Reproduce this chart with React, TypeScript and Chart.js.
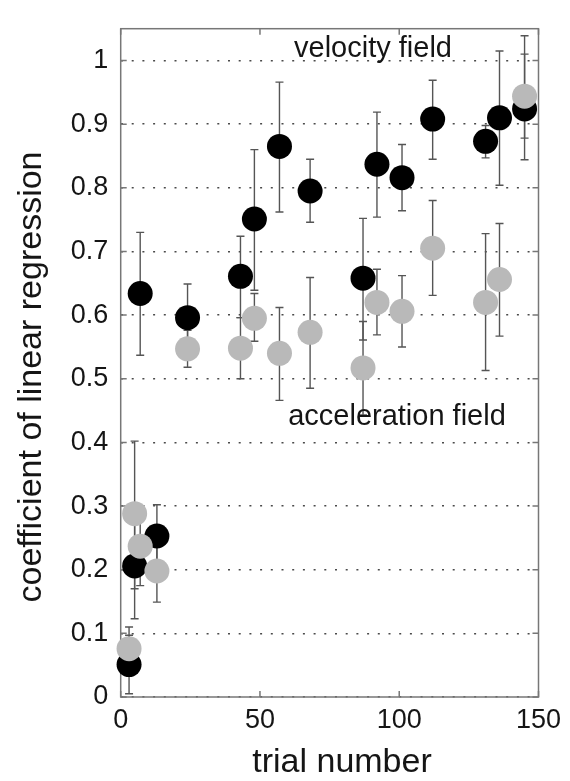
import React, { useEffect, useRef } from "react";
import { Chart, registerables } from "chart.js";

Chart.register(...registerables);

// ---- data ----
const trials = [3, 5, 7, 13, 24, 43, 48, 57, 68, 87, 92, 101, 112, 131, 136, 145];

const velocityMean = [0.051, 0.206, 0.634, 0.253, 0.596, 0.661, 0.751, 0.865, 0.795, 0.658, 0.837, 0.816, 0.908, 0.873, 0.91, 0.924];
const velocityLow = [0.005, 0.123, 0.537, 0.204, 0.543, 0.596, 0.639, 0.762, 0.746, 0.561, 0.754, 0.764, 0.845, 0.847, 0.804, 0.844];
const velocityHigh = [0.097, 0.29, 0.73, 0.302, 0.649, 0.724, 0.86, 0.966, 0.845, 0.752, 0.919, 0.868, 0.969, 0.898, 1.015, 1.039];

const accelerationMean = [0.076, 0.288, 0.237, 0.198, 0.547, 0.548, 0.595, 0.54, 0.573, 0.517, 0.62, 0.606, 0.705, 0.62, 0.656, 0.944];
const accelerationLow = [0.042, 0.17, 0.175, 0.149, 0.518, 0.5, 0.559, 0.466, 0.485, 0.443, 0.569, 0.55, 0.631, 0.513, 0.567, 0.878];
const accelerationHigh = [0.11, 0.402, 0.3, 0.247, 0.576, 0.596, 0.634, 0.612, 0.659, 0.59, 0.672, 0.662, 0.78, 0.728, 0.744, 1.01];

const xTickValues = [0, 50, 100, 150];
const xTickLabels = ["0", "50", "100", "150"];
const yTickValues = [0, 0.1, 0.2, 0.3, 0.4, 0.5, 0.6, 0.7, 0.8, 0.9, 1];
const yTickLabels = ["0", "0.1", "0.2", "0.3", "0.4", "0.5", "0.6", "0.7", "0.8", "0.9", "1"];

const seriesNames = ["velocity field", "acceleration field"];
const xTitle = "trial number";
const yTitle = "coefficient of linear regression";

const FONT = "'Liberation Sans', Arial, Helvetica, sans-serif";

const errorBarPlugin = {
  id: "errorBars",
  beforeDatasetsDraw(chart: any) {
    const ctx = chart.ctx;
    const xs = chart.scales.x;
    const ys = chart.scales.y;
    const sets = [
      [velocityLow, velocityHigh],
      [accelerationLow, accelerationHigh],
    ];
    ctx.save();
    ctx.strokeStyle = "#555";
    ctx.lineWidth = 1.4;
    sets.forEach(([lo, hi]) => {
      trials.forEach((t, i) => {
        const x = xs.getPixelForValue(t);
        const y1 = ys.getPixelForValue(lo[i]);
        const y2 = ys.getPixelForValue(hi[i]);
        ctx.beginPath();
        ctx.moveTo(x, y1);
        ctx.lineTo(x, y2);
        ctx.moveTo(x - 4, y1);
        ctx.lineTo(x + 4, y1);
        ctx.moveTo(x - 4, y2);
        ctx.lineTo(x + 4, y2);
        ctx.stroke();
      });
    });
    // frame + inward tick marks
    const a = chart.chartArea;
    ctx.strokeStyle = "#777";
    ctx.lineWidth = 1.5;
    ctx.strokeRect(a.left, a.top, a.right - a.left, a.bottom - a.top);
    ctx.beginPath();
    yTickValues.forEach((v) => {
      const y = ys.getPixelForValue(v);
      ctx.moveTo(a.left, y);
      ctx.lineTo(a.left + 6, y);
      ctx.moveTo(a.right, y);
      ctx.lineTo(a.right - 6, y);
    });
    xTickValues.forEach((v) => {
      const x = xs.getPixelForValue(v);
      ctx.moveTo(x, a.bottom);
      ctx.lineTo(x, a.bottom - 6);
      ctx.moveTo(x, a.top);
      ctx.lineTo(x, a.top + 6);
    });
    ctx.stroke();
    ctx.restore();
  },
  afterDraw(chart: any) {
    const ctx = chart.ctx;
    ctx.save();
    ctx.fillStyle = "#151515";
    ctx.textAlign = "center";
    ctx.textBaseline = "alphabetic";
    ctx.font = `29px ${FONT}`;
    ctx.fillText(seriesNames[0], 373, 57);
    ctx.fillText(seriesNames[1], 397, 425);
    ctx.font = `34px ${FONT}`;
    ctx.fillText(xTitle, 342, 772);
    ctx.translate(41, 377);
    ctx.rotate(-Math.PI / 2);
    ctx.fillText(yTitle, 0, 0);
    ctx.restore();
  },
};

export default function App() {
  const ref = useRef<HTMLCanvasElement>(null);
  useEffect(() => {
    if (!ref.current) return;
    const chart = new Chart(ref.current, {
      type: "scatter",
      data: {
        datasets: [
          {
            label: seriesNames[0],
            data: trials.map((t, i) => ({ x: t, y: velocityMean[i] })),
            pointRadius: 12.5,
            pointHoverRadius: 12.5,
            pointBackgroundColor: "#000000",
            pointBorderWidth: 0,
            borderWidth: 0,
            clip: false,
            order: 2,
          } as any,
          {
            label: seriesNames[1],
            data: trials.map((t, i) => ({ x: t, y: accelerationMean[i] })),
            pointRadius: 12.5,
            pointHoverRadius: 12.5,
            pointBackgroundColor: "#b9b9b9",
            pointBorderWidth: 0,
            borderWidth: 0,
            clip: false,
            order: 1,
          } as any,
        ],
      },
      options: {
        animation: false,
        responsive: true,
        maintainAspectRatio: false,
        layout: { padding: { top: 9, right: 31.5, left: 0, bottom: 0 } },
        plugins: {
          legend: { display: false },
          tooltip: { enabled: false },
        },
        scales: {
          x: {
            type: "linear",
            min: 0,
            max: 150,
            afterBuildTicks: (s: any) => {
              s.ticks = xTickValues.map((v) => ({ value: v }));
            },
            afterFit: (s: any) => {
              s.height = 84;
            },
            ticks: {
              callback: (_v: any, i: number) => xTickLabels[i],
              color: "#151515",
              font: { family: FONT, size: 27 },
              padding: 7,
              maxRotation: 0,
              autoSkip: false,
            },
            grid: { display: false, drawTicks: false },
            border: { display: false },
          },
          y: {
            type: "linear",
            min: 0,
            max: 1.05,
            afterBuildTicks: (s: any) => {
              s.ticks = yTickValues.map((v) => ({ value: v }));
            },
            afterFit: (s: any) => {
              s.width = 120.7;
            },
            ticks: {
              callback: (_v: any, i: number) => yTickLabels[i],
              color: "#151515",
              font: { family: FONT, size: 27 },
              padding: 12.5,
              autoSkip: false,
              includeBounds: false,
            },
            grid: {
              color: "#4a4a4a",
              lineWidth: 1.6,
              drawTicks: false,
            },
            border: { display: false, dash: [2, 8.7] },
          },
        },
      },
      plugins: [errorBarPlugin],
    });
    return () => chart.destroy();
  }, []);
  return (
    <div style={{ position: "absolute", left: 0, top: 0, width: 570, height: 781 }}>
      <canvas ref={ref} />
    </div>
  );
}
